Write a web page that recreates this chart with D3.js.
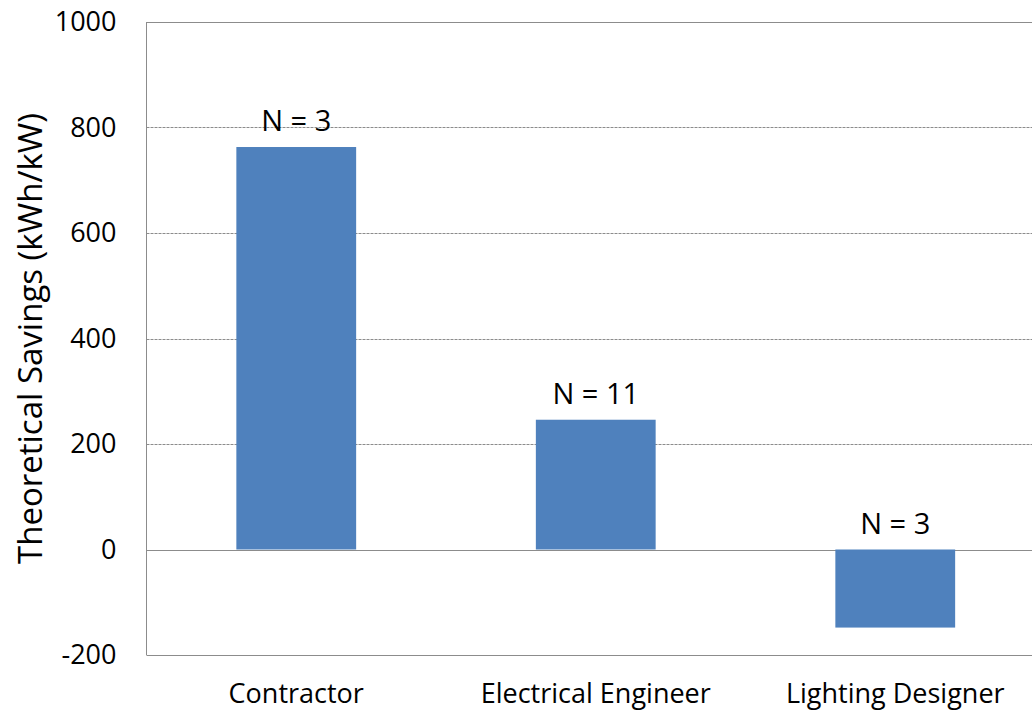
<!DOCTYPE html>
<html>
<head>
<meta charset="utf-8">
<script src="https://cdn.jsdelivr.net/npm/d3@7"></script>
<style>
    body { margin: 0; background: #fff; }
    text { font-family: "Open Sans", "Noto Sans", sans-serif; fill: #000; }
</style>
</head>
<body>
<div id="chart"></div>
<script>
"use strict";

const categories = ["Contractor", "Electrical Engineer", "Lighting Designer"];
const savings = [763, 246, -148];
const counts = ["N = 3", "N = 11", "N = 3"];
const yTicks = [-200, 0, 200, 400, 600, 800, 1000];

const plot = {
    width: 1032,
    height: 711,
    left: 146.5,
    right: 1045,
    top: 22,
    bottom: 655
}

const svg = d3.select("#chart")
    .append("svg")
    .attr("width", plot.width)
    .attr("height", plot.height);

const xScale = d3.scaleBand()
    .domain(categories)
    .range([plot.left, plot.right])
    .paddingInner(0.6)
    .paddingOuter(0.3);

const yScale = d3.scaleLinear()
    .domain([-200, 1000])
    .range([plot.bottom, plot.top]);

// gridlines
svg.append("g")
    .selectAll("line")
    .data(yTicks)
    .enter()
    .append("line")
    .attr("x1", plot.left)
    .attr("x2", plot.right)
    .attr("y1", d => Math.round(yScale(d)) + 0.5)
    .attr("y2", d => Math.round(yScale(d)) + 0.5)
    .attr("stroke", "#8c8c8c")
    .attr("stroke-width", 1)
    .attr("stroke-dasharray", d => (d == 0 || d == -200 || d == 1000) ? null : "3,1");

// left axis line
svg.append("line")
    .attr("x1", plot.left)
    .attr("x2", plot.left)
    .attr("y1", plot.top)
    .attr("y2", plot.bottom)
    .attr("stroke", "#8c8c8c");

// bars
svg.selectAll(".bar")
    .data(savings)
    .enter()
    .append("rect")
    .attr("class", "bar")
    .attr("x", (d, i) => xScale(categories[i]))
    .attr("width", xScale.bandwidth())
    .attr("y", d => yScale(Math.max(0, d)))
    .attr("height", d => Math.abs(yScale(d) - yScale(0)))
    .attr("fill", "#4f81bd");

// N labels
svg.selectAll(".count")
    .data(savings)
    .enter()
    .append("text")
    .attr("class", "count")
    .attr("x", (d, i) => xScale(categories[i]) + xScale.bandwidth() / 2)
    .attr("y", d => yScale(Math.max(0, d)) - 16)
    .attr("text-anchor", "middle")
    .style("font-size", "29px")
    .text((d, i) => counts[i]);

// y axis labels
const yAxis = d3.axisLeft(yScale)
    .tickValues(yTicks)
    .tickFormat(d => String(d))
    .tickSize(0)
    .tickPadding(30);
const yg = svg.append("g")
    .attr("transform", "translate(" + plot.left + ",0)")
    .call(yAxis);
yg.select(".domain").remove();
yg.selectAll("text")
    .style("font-size", "27px")
    .attr("font-family", null)
    .attr("fill", "#000");

// x axis labels
const xAxis = d3.axisBottom(xScale).tickSize(0).tickPadding(0);
const xg = svg.append("g")
    .attr("transform", "translate(0," + plot.bottom + ")")
    .call(xAxis);
xg.select(".domain").remove();
xg.selectAll("text")
    .attr("dy", null)
    .attr("y", 48)
    .style("font-size", "27px")
    .attr("font-family", null)
    .attr("fill", "#000");

// y title
svg.append("text")
    .attr("transform", "translate(42," + (plot.top + plot.bottom) / 2 + ") rotate(-90)")
    .attr("text-anchor", "middle")
    .style("font-size", "33px")
    .text("Theoretical Savings (kWh/kW)");
</script>
</body>
</html>
